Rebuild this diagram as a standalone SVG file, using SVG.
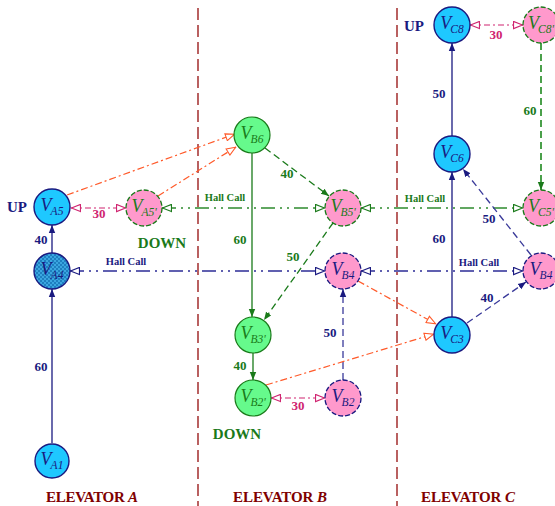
<svg xmlns="http://www.w3.org/2000/svg" width="555" height="506" viewBox="0 0 555 506">
<style>
text{font-family:"Liberation Serif","Times New Roman",serif}
.lbl{font-style:italic;font-size:18px;text-anchor:middle}
.sub{font-size:11.5px}
.num{font-weight:bold;font-size:13px;text-anchor:middle}
.hc{font-weight:bold;font-size:10.5px;text-anchor:middle}
.big{font-weight:bold;font-size:15px;text-anchor:middle}
.navyT{fill:#1a1a80}
.greenT{fill:#1a7a1a}
.magT{fill:#d02470}
.cyan{fill:#1ec8ff;stroke:#1a1a80;stroke-width:1.4}
.grn{fill:#66fa8c;stroke:#1a7a1a;stroke-width:1.2}
.pinkG{fill:#ff99cc;stroke:#1a7a1a;stroke-width:1.3;stroke-dasharray:5,2}
.pinkN{fill:#ff99cc;stroke:#1a1a80;stroke-width:1.3;stroke-dasharray:5,2}
.div{stroke:#a83a3a;stroke-width:1.6;stroke-dasharray:12,5;fill:none}
#connectors line{fill:none}
.sN{stroke:#1a1a80;stroke-width:1.3}
.dN{stroke:#3a3a9a;stroke-width:1.3;stroke-dasharray:7,4}
.sG{stroke:#1a7a1a;stroke-width:1.3}
.dG{stroke:#1a7a1a;stroke-width:1.3;stroke-dasharray:7,4}
.mag{stroke:#d02470;stroke-width:1.2;stroke-dasharray:6,3,2,3}
.org{stroke:#ff5a2a;stroke-width:1.2;stroke-dasharray:7,3,2,3}
.hallN{stroke:#6060b0;stroke-width:2;stroke-dasharray:14,5,2,5,2,5}
.hallG{stroke:#2e8b2e;stroke-width:1.6;stroke-dasharray:14,5,2,5,2,5}
</style>
<defs>
<pattern id="chk" width="4" height="4" patternUnits="userSpaceOnUse">
<rect width="4" height="4" fill="#3aa6e0"/>
<rect width="2" height="2" fill="#1e7fc0"/>
<rect x="2" y="2" width="2" height="2" fill="#1e7fc0"/>
</pattern>
<marker id="fN" viewBox="0 0 10 10" refX="10" refY="5" markerWidth="8" markerHeight="8" markerUnits="userSpaceOnUse" orient="auto-start-reverse"><path d="M0,1 L10,5 L0,9 z" fill="#1a1a80"/></marker>
<marker id="fG" viewBox="0 0 10 10" refX="10" refY="5" markerWidth="8" markerHeight="8" markerUnits="userSpaceOnUse" orient="auto-start-reverse"><path d="M0,1 L10,5 L0,9 z" fill="#1a7a1a"/></marker>
<marker id="oN" viewBox="0 0 12 10" refX="11.5" refY="5" markerWidth="11" markerHeight="9" markerUnits="userSpaceOnUse" orient="auto-start-reverse"><path d="M1,1 L11,5 L1,9 z" fill="#fff" stroke="#1a1a80" stroke-width="1.2"/></marker>
<marker id="oG" viewBox="0 0 12 10" refX="11.5" refY="5" markerWidth="11" markerHeight="9" markerUnits="userSpaceOnUse" orient="auto-start-reverse"><path d="M1,1 L11,5 L1,9 z" fill="#fff" stroke="#1a7a1a" stroke-width="1.2"/></marker>
<marker id="oM" viewBox="0 0 12 10" refX="11.5" refY="5" markerWidth="11" markerHeight="9" markerUnits="userSpaceOnUse" orient="auto-start-reverse"><path d="M1,1 L11,5 L1,9 z" fill="#fff" stroke="#d02470" stroke-width="1.2"/></marker>
<marker id="oO" viewBox="0 0 12 10" refX="11.5" refY="5" markerWidth="11" markerHeight="9" markerUnits="userSpaceOnUse" orient="auto-start-reverse"><path d="M1,1 L11,5 L1,9 z" fill="#fff" stroke="#ff5a2a" stroke-width="1.2"/></marker>
</defs>
<rect width="555" height="506" fill="#fff"/>
<g id="dividers">
<line class="div" x1="198" y1="8" x2="198" y2="506"/>
<line class="div" x1="397" y1="8" x2="397" y2="506"/>
</g>
<g id="connectors">
<line class="sN" x1="52" y1="443" x2="52" y2="289" marker-end="url(#fN)"/>
<line class="sN" x1="52" y1="253" x2="52" y2="225" marker-end="url(#fN)"/>
<line class="mag" x1="71" y1="208" x2="126" y2="208" marker-start="url(#oM)" marker-end="url(#oM)"/>
<line class="org" x1="67" y1="195" x2="235" y2="134" marker-end="url(#oO)"/>
<line class="org" x1="158" y1="196" x2="236" y2="147" marker-end="url(#oO)"/>
<line class="hallG" x1="162" y1="208" x2="325" y2="208" marker-start="url(#oG)" marker-end="url(#oG)"/>
<line class="hallG" x1="361" y1="208" x2="523" y2="208" marker-start="url(#oG)" marker-end="url(#oG)"/>
<line class="hallN" x1="70" y1="271" x2="325" y2="271" marker-start="url(#oN)" marker-end="url(#oN)"/>
<line class="hallN" x1="361" y1="271" x2="523" y2="271" marker-start="url(#oN)" marker-end="url(#oN)"/>
<line class="sG" x1="252" y1="153" x2="252" y2="317" marker-end="url(#fG)"/>
<line class="sG" x1="253" y1="353" x2="253" y2="380" marker-end="url(#fG)"/>
<line class="dG" x1="265" y1="148" x2="329" y2="196" marker-end="url(#fG)"/>
<line class="dG" x1="333" y1="223" x2="264" y2="320" marker-end="url(#fG)"/>
<line class="dN" x1="343" y1="380" x2="343" y2="289" stroke-width="1.6" marker-end="url(#fN)"/>
<line class="mag" x1="271" y1="398" x2="325" y2="398" marker-start="url(#oM)" marker-end="url(#oM)"/>
<line class="org" x1="358" y1="281" x2="436" y2="324" marker-end="url(#oO)"/>
<line class="org" x1="266" y1="385" x2="434" y2="334" marker-end="url(#oO)"/>
<line class="sN" x1="452" y1="317" x2="452" y2="172" marker-end="url(#fN)"/>
<line class="sN" x1="452" y1="136" x2="452" y2="43" marker-end="url(#fN)"/>
<line class="mag" x1="470" y1="25" x2="523" y2="25" marker-start="url(#oM)" marker-end="url(#oM)"/>
<line x1="541" y1="43" x2="541" y2="190" stroke="#4aa04a" stroke-width="2" stroke-dasharray="7,4" marker-end="url(#fG)"/>
<line class="dN" x1="531" y1="255" x2="463" y2="169" marker-end="url(#fN)"/>
<line class="dN" x1="467" y1="323" x2="526" y2="282" marker-end="url(#fN)"/>
</g>
<g id="VA5"><circle class="cyan" cx="52" cy="207" r="18"/><text class="lbl navyT" x="52" y="211">V<tspan class="sub" dx="-1" dy="4">A5</tspan></text></g>
<g id="VA5p"><circle class="pinkG" cx="144" cy="208" r="18"/><text class="lbl greenT" x="144" y="212">V<tspan class="sub" dx="-1" dy="4">A5'</tspan></text></g>
<g id="VA4"><circle cx="52" cy="271" r="18" fill="url(#chk)" stroke="#1a1a80" stroke-width="1.4"/><text class="lbl navyT" x="52" y="275">V<tspan class="sub" dx="-1" dy="4">A4</tspan></text></g>
<g id="VA1"><circle class="cyan" cx="52" cy="461" r="17"/><text class="lbl navyT" x="52" y="465">V<tspan class="sub" dx="-1" dy="4">A1</tspan></text></g>
<g id="VB6"><circle class="grn" cx="252" cy="135" r="18"/><text class="lbl greenT" x="252" y="139">V<tspan class="sub" dx="-1" dy="4">B6</tspan></text></g>
<g id="VB5p"><circle class="pinkG" cx="343" cy="208" r="18"/><text class="lbl greenT" x="343" y="212">V<tspan class="sub" dx="-1" dy="4">B5'</tspan></text></g>
<g id="VB4"><circle class="pinkN" cx="343" cy="271" r="18"/><text class="lbl navyT" x="343" y="275">V<tspan class="sub" dx="-1" dy="4">B4</tspan></text></g>
<g id="VB3"><circle class="grn" cx="253" cy="335" r="18"/><text class="lbl greenT" x="253" y="339">V<tspan class="sub" dx="-1" dy="4">B3'</tspan></text></g>
<g id="VB2p"><circle class="grn" cx="253" cy="398" r="18"/><text class="lbl greenT" x="253" y="402">V<tspan class="sub" dx="-1" dy="4">B2'</tspan></text></g>
<g id="VB2"><circle class="pinkN" cx="343" cy="398" r="18"/><text class="lbl navyT" x="343" y="402">V<tspan class="sub" dx="-1" dy="4">B2</tspan></text></g>
<g id="VC8"><circle class="cyan" cx="452" cy="25" r="18"/><text class="lbl navyT" x="452" y="29">V<tspan class="sub" dx="-1" dy="4">C8</tspan></text></g>
<g id="VC8p"><circle class="pinkG" cx="541" cy="25" r="18"/><text class="lbl greenT" x="541" y="29">V<tspan class="sub" dx="-1" dy="4">C8'</tspan></text></g>
<g id="VC6"><circle class="cyan" cx="452" cy="154" r="18"/><text class="lbl navyT" x="452" y="158">V<tspan class="sub" dx="-1" dy="4">C6</tspan></text></g>
<g id="VC5p"><circle class="pinkG" cx="541" cy="208" r="18"/><text class="lbl greenT" x="541" y="212">V<tspan class="sub" dx="-1" dy="4">C5'</tspan></text></g>
<g id="VB4c"><circle class="pinkN" cx="541" cy="271" r="18"/><text class="lbl navyT" x="541" y="275">V<tspan class="sub" dx="-1" dy="4">B4</tspan></text></g>
<g id="VC3"><circle class="cyan" cx="452" cy="335" r="18"/><text class="lbl navyT" x="452" y="339">V<tspan class="sub" dx="-1" dy="4">C3</tspan></text></g>
<g id="labels">
<text class="big navyT" x="17" y="212">UP</text>
<text class="big navyT" x="414" y="31">UP</text>
<text class="big greenT" x="162" y="248">DOWN</text>
<text class="big greenT" x="237" y="439">DOWN</text>
<text class="num magT" x="99" y="218">30</text>
<text class="num navyT" x="41" y="244">40</text>
<text class="num navyT" x="41" y="371">60</text>
<text class="num greenT" x="287" y="178">40</text>
<text class="num greenT" x="240" y="244">60</text>
<text class="num greenT" x="293" y="261">50</text>
<text class="num navyT" x="330" y="337">50</text>
<text class="num greenT" x="240" y="370">40</text>
<text class="num magT" x="298" y="410">30</text>
<text class="num magT" x="496" y="39">30</text>
<text class="num navyT" x="439" y="98">50</text>
<text class="num greenT" x="530" y="115">60</text>
<text class="num navyT" x="489" y="223">50</text>
<text class="num navyT" x="439" y="243">60</text>
<text class="num navyT" x="487" y="302">40</text>
<text class="hc navyT" x="126" y="265">Hall Call</text>
<text class="hc greenT" x="225" y="201">Hall Call</text>
<text class="hc greenT" x="425" y="202">Hall Call</text>
<text class="hc navyT" x="479" y="266">Hall Call</text>
<text class="big" fill="#800000" x="92" y="502" textLength="92">ELEVATOR <tspan font-style="italic">A</tspan></text>
<text class="big" fill="#800000" x="280" y="502" textLength="94">ELEVATOR <tspan font-style="italic">B</tspan></text>
<text class="big" fill="#800000" x="468" y="502" textLength="94">ELEVATOR <tspan font-style="italic">C</tspan></text>
</g>
</svg>
